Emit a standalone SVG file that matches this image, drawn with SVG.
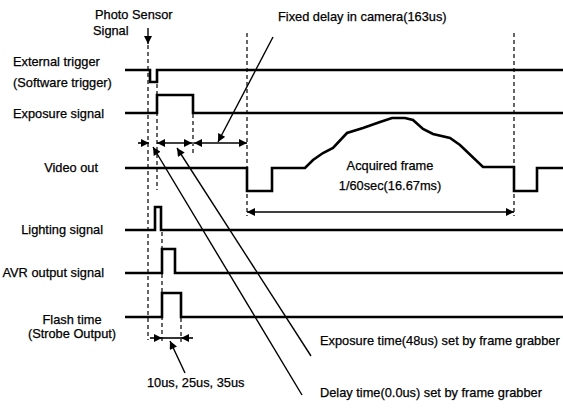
<svg xmlns="http://www.w3.org/2000/svg" width="563" height="409" viewBox="0 0 563 409">
<style>
text{font-family:"Liberation Sans",Arial,sans-serif;font-size:12.8px;fill:#000;stroke:#000;stroke-width:0.25}
.sig{fill:none;stroke:#000;stroke-width:2.6;stroke-linejoin:miter}
.dash{stroke:#000;stroke-width:1.2;stroke-dasharray:4,3;fill:none}
.ptr{stroke:#000;stroke-width:1.4;fill:none}
.dim{stroke:#000;stroke-width:1.6;fill:none}
.mid{text-anchor:middle}
.end{text-anchor:end}
</style>
<defs>
<marker id="ah" viewBox="0 0 10 10" refX="10" refY="5" markerWidth="10" markerHeight="8" markerUnits="userSpaceOnUse" orient="auto-start-reverse">
<path d="M0,0 L10,5 L0,10 z" fill="#000"/>
</marker>
</defs>
<rect width="563" height="409" fill="#fff"/>

<g id="photo-sensor">
<text x="95" y="19">Photo Sensor</text>
<text x="93" y="35">Signal</text>
</g>
<g id="fixed-delay-label"><text x="278" y="21">Fixed delay in camera(163us)</text></g>

<g id="external-trigger">
<text x="13" y="66">External trigger</text>
<text x="13" y="87">(Software trigger)</text>
<path class="sig" d="M125,70 H150 V82 H157 V70 H563"/>
</g>
<g id="exposure-signal">
<text x="13" y="118">Exposure signal</text>
<path class="sig" d="M125,113 H157 V95 H193 V113 H563"/>
</g>
<g id="video-out">
<text class="end" x="98" y="172">Video out</text>
<path class="sig" d="M125,168 H247 V191 H272 V168 H305 L313,160 L323,153 L333,148 L347,133 L363,128 L380,122 L392,118 L405,118 L413,120 L423,129 L433,134 L450,138 L460,145 L483,167 H514 V191 H537 V168 H563"/>
<text class="mid" x="390" y="170">Acquired frame</text>
<text class="mid" x="390" y="190">1/60sec(16.67ms)</text>
</g>
<g id="lighting-signal">
<text class="end" x="103" y="234">Lighting signal</text>
<path class="sig" d="M125,230 H155 V207 H161 V230 H563"/>
</g>
<g id="avr-output">
<text class="end" x="104" y="277">AVR output signal</text>
<path class="sig" d="M125,273 H162 V249 H175 V273 H563"/>
</g>
<g id="flash-time">
<text class="mid" x="72" y="324">Flash time</text>
<text class="mid" x="72" y="338">(Strobe Output)</text>
<path class="sig" d="M125,317 H162 V293 H181 V317 H563"/>
</g>
<g id="annotations">
<text x="147" y="387">10us, 25us, 35us</text>
<text x="320" y="345">Exposure time(48us) set by frame grabber</text>
<text x="320" y="397">Delay time(0.0us) set by frame grabber</text>
</g>

<g id="connectors">
<line class="dash" x1="148" y1="45" x2="148" y2="340"/>
<line class="dash" x1="157" y1="84" x2="157" y2="190"/>
<line class="dash" x1="162" y1="232" x2="162" y2="342"/>
<line class="dash" x1="181" y1="318" x2="181" y2="342"/>
<line class="dash" x1="193" y1="100" x2="193" y2="155"/>
<line class="dash" x1="247" y1="33" x2="247" y2="216"/>
<line class="dash" x1="514" y1="33" x2="514" y2="216"/>

<line class="ptr" x1="148" y1="28" x2="148" y2="44" marker-end="url(#ah)"/>
<line class="dim" x1="138" y1="143" x2="149" y2="143" marker-end="url(#ah)"/>
<line class="dim" x1="157" y1="143" x2="192" y2="143" marker-start="url(#ah)" marker-end="url(#ah)"/>
<line class="dim" x1="194" y1="143" x2="247" y2="143" marker-start="url(#ah)" marker-end="url(#ah)"/>
<line class="dim" x1="247" y1="212" x2="514" y2="212" marker-start="url(#ah)" marker-end="url(#ah)"/>
<line class="dim" x1="150" y1="338" x2="162" y2="338" marker-end="url(#ah)"/>
<line class="dim" x1="162" y1="338" x2="181" y2="338"/>
<line class="dim" x1="193" y1="338" x2="181" y2="338" marker-end="url(#ah)"/>

<line class="ptr" x1="273" y1="37" x2="218" y2="142" marker-end="url(#ah)"/>
<line class="ptr" x1="302" y1="395" x2="153" y2="147" marker-end="url(#ah)"/>
<line class="ptr" x1="311" y1="356" x2="177" y2="148" marker-end="url(#ah)"/>
<line class="ptr" x1="185" y1="373" x2="170" y2="341" marker-end="url(#ah)"/>
</g>
</svg>
